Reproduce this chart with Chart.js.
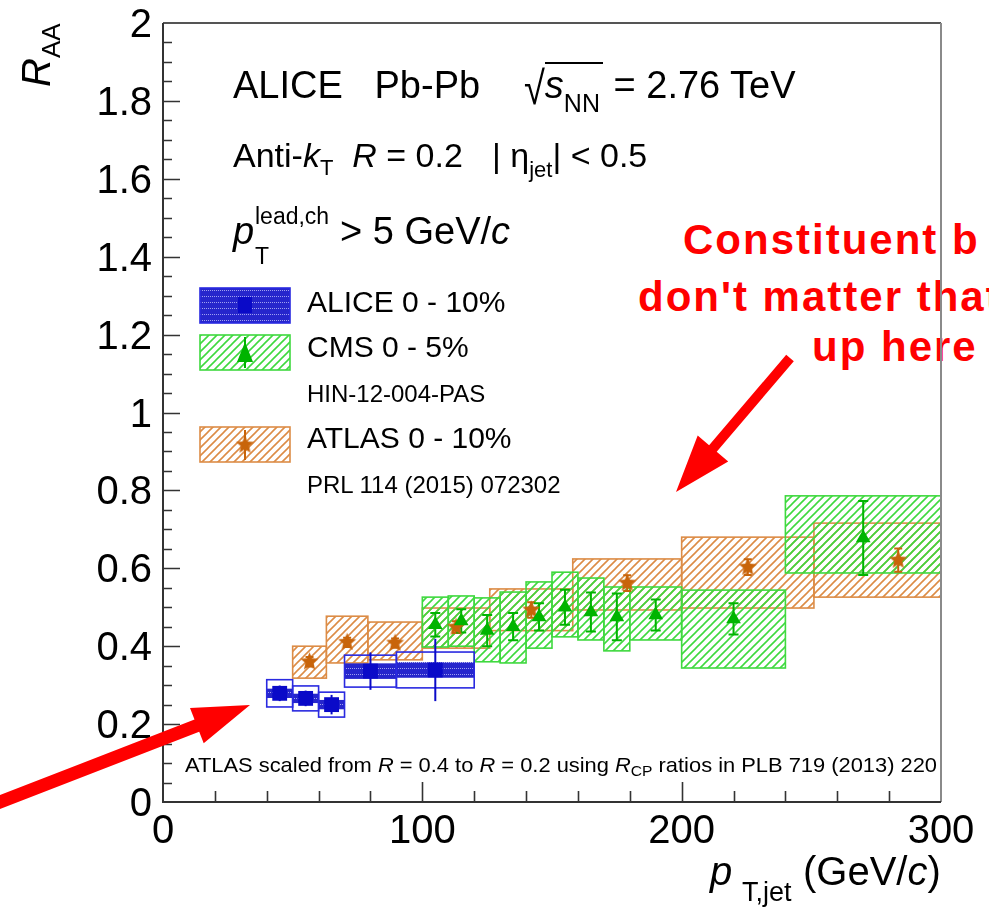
<!DOCTYPE html>
<html>
<head>
<meta charset="utf-8">
<script src="https://cdn.jsdelivr.net/npm/chart.js@4.4.1/dist/chart.umd.min.js"></script>
<style>
html,body{margin:0;padding:0;background:#fff;}
body{width:989px;height:909px;overflow:hidden;position:relative;font-family:"Liberation Sans",Arial,sans-serif;}
#c{position:absolute;left:0;top:0;}
.t{position:absolute;white-space:nowrap;line-height:1;color:#000;}
.s{position:relative;}
.red{color:#f00;font-weight:bold;letter-spacing:2px;}
#arrows{position:absolute;left:0;top:0;}
</style>
</head>
<body>
<!-- red comment text sits under the plot, the frame line shows through it -->
<div class="t red" data-x="683" data-b="255" data-s="42">Constituent b</div>
<div class="t red" data-x="638" data-b="312" data-s="42">don't matter that</div>
<div class="t red" data-x="812" data-b="362" data-s="42">up here</div>

<canvas id="c" width="989" height="909"></canvas>

<div class="t" data-x="233" data-b="98" data-s="38">ALICE&nbsp;&nbsp; Pb-Pb</div>
<div class="t" data-x="524" data-b="98" data-s="38"><span style="display:inline-block;transform:scaleY(1.22);transform-origin:50% 15%">√</span><span style="border-top:2px solid #000;padding-right:3px"><i>s</i><span class="s" style="font-size:25px;top:14px">NN</span></span> = 2.76 TeV</div>

<div class="t" data-x="233" data-b="167" data-s="34">Anti-<i>k</i><span class="s" style="font-size:22px;top:8px">T</span>&nbsp; <i>R</i> = 0.2</div>
<div class="t" data-x="492" data-b="167" data-s="34">| η<span class="s" style="font-size:22px;top:10px">jet</span>| &lt; 0.5</div>

<div class="t" data-x="233" data-b="244" data-s="38"><i>p</i></div>
<div class="t" data-x="255" data-b="224" data-s="23">lead,ch</div>
<div class="t" data-x="255" data-b="264" data-s="23">T</div>
<div class="t" data-x="340" data-b="244" data-s="38">&gt; 5 GeV/<i>c</i></div>

<div class="t" data-x="307" data-b="312" data-s="30">ALICE 0 - 10%</div>
<div class="t" data-x="307" data-b="357" data-s="30">CMS 0 - 5%</div>
<div class="t" data-x="307" data-b="402" data-s="24">HIN-12-004-PAS</div>
<div class="t" data-x="307" data-b="448" data-s="30">ATLAS 0 - 10%</div>
<div class="t" data-x="307" data-b="493" data-s="24">PRL 114 (2015) 072302</div>

<div class="t" data-x="185" data-b="772" data-s="21" data-w="752">ATLAS scaled from <i>R</i> = 0.4 to <i>R</i> = 0.2 using <i>R</i><span class="s" style="font-size:15px;top:4px">CP</span> ratios in PLB 719 (2013) 220</div>

<div class="t" data-x="710" data-b="885" data-s="40"><i>p</i></div>
<div class="t" data-x="742" data-b="902" data-s="27">T,jet</div>
<div class="t" data-x="803" data-b="885" data-s="40">(GeV/<i>c</i>)</div>

<div class="t" style="left:0;top:0;font-size:40px;transform-origin:0 0;transform:translate(16px,87px) rotate(-90deg)"><i>R</i><span class="s" style="font-size:26px;top:10px">AA</span></div>

<svg id="arrows" width="989" height="909"></svg>

<script>
// ALICE 0-10%, R=0.2
const aliceLo=[40,50,60,70,90];
const aliceHi=[50,60,70,90,120];
const alicePt=[45,55,65,80,105];
const aliceRaa=[0.279,0.266,0.25,0.336,0.339];
const aliceStat=[0.02,0.02,0.025,0.048,0.08];
const aliceCorr=[0.035,0.032,0.032,0.041,0.046];
const aliceShape=[0.012,0.012,0.012,0.02,0.02];

// CMS 0-5%
const cmsLo=[100,110,120,130,140,150,160,170,180,200,240];
const cmsHi=[110,120,130,140,150,160,170,180,200,240,300];
const cmsPt=[105,115,125,135,145,155,165,175,190,220,270];
const cmsRaa=[0.455,0.465,0.44,0.45,0.475,0.5,0.488,0.475,0.48,0.47,0.678];
const cmsStat=[0.03,0.03,0.04,0.035,0.035,0.045,0.05,0.06,0.04,0.04,0.095];
const cmsSysLow=[0.398,0.4,0.36,0.357,0.395,0.424,0.416,0.388,0.416,0.344,0.588];
const cmsSysHigh=[0.526,0.529,0.524,0.539,0.565,0.59,0.575,0.552,0.552,0.544,0.786];

// ATLAS 0-10%, scaled to R=0.2
const atlasLo=[50,63,79,100,126,158,200,251];
const atlasHi=[63,79,100,126,158,200,251,316];
const atlasPt=[56.5,71,89.5,113,142,179,225.5,283.5];
const atlasRaa=[0.36,0.41,0.408,0.449,0.493,0.562,0.603,0.621];
const atlasStat=[0.012,0.012,0.012,0.015,0.02,0.02,0.02,0.03];
const atlasSysLow=[0.318,0.357,0.365,0.395,0.44,0.493,0.498,0.526];
const atlasSysHigh=[0.40,0.477,0.462,0.498,0.547,0.624,0.68,0.716];

const xTicks=[0,100,200,300];
const yTicks=[0,0.2,0.4,0.6,0.8,1,1.2,1.4,1.6,1.8,2];

const blue='#0a0ac8', blueLine='#2a2ae0';
const green='#00b400', greenLine='#3fd93f';
const orange='#c8640a', orangeLine='#dc8c46';

// place the html texts on their baselines
document.querySelectorAll('.t[data-b]').forEach(el=>{
 const s=+el.dataset.s;
 el.style.fontSize=s+'px';
 el.style.left=el.dataset.x+'px';
 el.style.top=(+el.dataset.b - 0.8465*s)+'px';
 if(el.dataset.w){
  el.style.transformOrigin='0 0';
  el.style.transform='scaleX('+(+el.dataset.w/el.offsetWidth)+')';
 }
});

const canvas=document.getElementById('c');
const ctx0=canvas.getContext('2d');

function hatch(color,size,lw){
 const c=document.createElement('canvas'); c.width=c.height=size;
 const g=c.getContext('2d'); g.strokeStyle=color; g.lineWidth=lw;
 g.beginPath();
 g.moveTo(0,size); g.lineTo(size,0);
 g.moveTo(-size/2,size/2); g.lineTo(size/2,-size/2);
 g.moveTo(size/2,size*1.5); g.lineTo(size*1.5,size/2);
 g.stroke();
 return ctx0.createPattern(c,'repeat');
}
function dots(){
 const c=document.createElement('canvas'); c.width=4; c.height=6;
 const g=c.getContext('2d');
 g.fillStyle='#2626cc'; g.fillRect(0,0,4,6);
 g.fillStyle='#a0a0f0'; g.fillRect(0,2,1,1); g.fillRect(2,2,1,1);
 return ctx0.createPattern(c,'repeat');
}
function star(r,color){
 const c=document.createElement('canvas'); const s=Math.ceil(r*2+2); c.width=c.height=s;
 const g=c.getContext('2d'); g.fillStyle=color; g.beginPath();
 for(let i=0;i<10;i++){
  const a=-Math.PI/2+i*Math.PI/5, rr=i%2?r*0.45:r;
  g.lineTo(s/2+rr*Math.cos(a),s/2+rr*Math.sin(a));
 }
 g.closePath(); g.fill();
 return c;
}

const greenHatch=hatch(greenLine,8,1.6);
const orangeHatch=hatch(orangeLine,8,1.6);
const bluePat=dots();
const starImg=star(9.5,orange);

const boxes={
 id:'boxes',
 beforeDatasetsDraw(chart){
  const {ctx,chartArea:a,scales:{x,y}}=chart;
  ctx.save();
  ctx.beginPath(); ctx.rect(a.left,a.top,a.right-a.left,a.bottom-a.top); ctx.clip();
  const box=(lo,hi,ylo,yhi,fill,stroke,lw)=>{
   const x0=x.getPixelForValue(lo), x1=x.getPixelForValue(hi);
   const y0=y.getPixelForValue(yhi), y1=y.getPixelForValue(ylo);
   if(fill){ctx.fillStyle=fill; ctx.fillRect(x0,y0,x1-x0,y1-y0);}
   if(stroke){ctx.strokeStyle=stroke; ctx.lineWidth=lw; ctx.strokeRect(x0,y0,x1-x0,y1-y0);}
  };
  const err=(px,v,e,color,cap)=>{
   const xp=x.getPixelForValue(px), y0=y.getPixelForValue(v-e), y1=y.getPixelForValue(v+e);
   ctx.strokeStyle=color; ctx.lineWidth=2;
   ctx.beginPath(); ctx.moveTo(xp,y0); ctx.lineTo(xp,y1);
   if(cap){ctx.moveTo(xp-cap,y0); ctx.lineTo(xp+cap,y0); ctx.moveTo(xp-cap,y1); ctx.lineTo(xp+cap,y1);}
   ctx.stroke();
  };
  atlasLo.forEach((lo,i)=>box(lo,atlasHi[i],atlasSysLow[i],atlasSysHigh[i],orangeHatch,orangeLine,1.6));
  cmsLo.forEach((lo,i)=>box(lo,cmsHi[i],cmsSysLow[i],cmsSysHigh[i],greenHatch,greenLine,1.6));
  aliceLo.forEach((lo,i)=>{
   box(lo,aliceHi[i],aliceRaa[i]-aliceShape[i],aliceRaa[i]+aliceShape[i],bluePat,null,0);
   box(lo,aliceHi[i],aliceRaa[i]-aliceCorr[i],aliceRaa[i]+aliceCorr[i],null,blueLine,1.6);
  });
  atlasPt.forEach((p,i)=>err(p,atlasRaa[i],atlasStat[i],orange,4));
  cmsPt.forEach((p,i)=>err(p,cmsRaa[i],cmsStat[i],green,5));
  alicePt.forEach((p,i)=>err(p,aliceRaa[i],aliceStat[i],blue,0));
  ctx.restore();
 },
 afterDraw(chart){
  const {ctx,chartArea:a,scales:{x,y}}=chart;
  ctx.save();
  // frame
  ctx.lineWidth=2;
  ctx.strokeStyle='#555'; ctx.beginPath(); ctx.moveTo(a.left,a.top); ctx.lineTo(a.right,a.top); ctx.stroke();
  ctx.strokeStyle='#8a8a8a'; ctx.beginPath(); ctx.moveTo(a.right,a.top); ctx.lineTo(a.right,a.bottom); ctx.stroke();
  ctx.strokeStyle='#333'; ctx.beginPath(); ctx.moveTo(a.left,a.top); ctx.lineTo(a.left,a.bottom); ctx.lineTo(a.right,a.bottom); ctx.stroke();
  // ticks inside the frame
  ctx.lineWidth=1.6; ctx.strokeStyle='#333'; ctx.beginPath();
  for(let k=1;k<40;k++){
   const yp=Math.round(y.getPixelForValue(k*0.05))+0.5, len=k%4===0?17:9;
   ctx.moveTo(a.left,yp); ctx.lineTo(a.left+len,yp);
  }
  for(let k=1;k<15;k++){
   const xp=Math.round(x.getPixelForValue(k*20))+0.5, len=k%5===0?20:11;
   ctx.moveTo(xp,a.bottom); ctx.lineTo(xp,a.bottom-len);
  }
  ctx.stroke();
  // legend swatches
  const sw=[[288,bluePat,blueLine],[335,greenHatch,greenLine],[427,orangeHatch,orangeLine]];
  sw.forEach(([top,fill,line])=>{
   ctx.fillStyle=fill; ctx.fillRect(200,top,90,35);
   ctx.strokeStyle=line; ctx.lineWidth=1.6; ctx.strokeRect(200,top,90,35);
  });
  ctx.fillStyle=blue; ctx.fillRect(238,297,14,16);
  ctx.strokeStyle=green; ctx.lineWidth=2; ctx.beginPath(); ctx.moveTo(245,337); ctx.lineTo(245,368); ctx.stroke();
  ctx.fillStyle=green; ctx.beginPath(); ctx.moveTo(245,342); ctx.lineTo(253,362); ctx.lineTo(237,362); ctx.closePath(); ctx.fill();
  ctx.strokeStyle=orange; ctx.beginPath(); ctx.moveTo(245,430); ctx.lineTo(245,460); ctx.stroke();
  ctx.drawImage(starImg,245-starImg.width/2,445-starImg.height/2);
  ctx.restore();
 }
};

new Chart(canvas,{
 type:'scatter',
 data:{
  datasets:[
   {label:'ALICE 0 - 10%',data:alicePt.map((p,i)=>({x:p,y:aliceRaa[i]})),pointStyle:'rect',pointRadius:10.5,backgroundColor:blue,borderWidth:0},
   {label:'CMS 0 - 5%',data:cmsPt.map((p,i)=>({x:p,y:cmsRaa[i]})),pointStyle:'triangle',pointRadius:8.5,backgroundColor:green,borderWidth:0},
   {label:'ATLAS 0 - 10%',data:atlasPt.map((p,i)=>({x:p,y:atlasRaa[i]})),pointStyle:starImg,backgroundColor:orange,borderWidth:0}
  ]
 },
 options:{
  responsive:false,
  animation:false,
  layout:{padding:{top:23,right:48,left:0,bottom:0}},
  plugins:{legend:{display:false},tooltip:{enabled:false}},
  scales:{
   x:{type:'linear',min:0,max:300,
    afterFit:s=>{s.height=107; s.paddingLeft=0; s.paddingRight=0;},
    afterBuildTicks:s=>{s.ticks=xTicks.map(v=>({value:v}));},
    grid:{display:false,drawTicks:false},border:{display:false},
    ticks:{font:{family:'"Liberation Sans", Arial',size:40,lineHeight:1},color:'#000',padding:10,maxRotation:0,autoSkip:false}},
   y:{type:'linear',min:0,max:2,
    afterFit:s=>{s.width=163; s.paddingTop=0; s.paddingBottom=0;},
    afterBuildTicks:s=>{s.ticks=yTicks.map(v=>({value:v}));},
    grid:{display:false,drawTicks:false},border:{display:false},
    ticks:{font:{family:'"Liberation Sans", Arial',size:40,lineHeight:1},color:'#000',padding:11,labelOffset:3,autoSkip:false,
     callback:v=>String(+v.toFixed(2))}}
  }
 },
 plugins:[boxes]
});

// red arrows
function arrow(tx,ty,hx,hy,headLen,headW,shaftW){
 const dx=hx-tx, dy=hy-ty, L=Math.hypot(dx,dy), ux=dx/L, uy=dy/L, nx=-uy, ny=ux;
 const bx=hx-ux*headLen, by=hy-uy*headLen;
 const p=[[tx+nx*shaftW/2,ty+ny*shaftW/2],[bx+nx*shaftW/2,by+ny*shaftW/2],[bx+nx*headW/2,by+ny*headW/2],[hx,hy],
  [bx-nx*headW/2,by-ny*headW/2],[bx-nx*shaftW/2,by-ny*shaftW/2],[tx-nx*shaftW/2,ty-ny*shaftW/2]];
 return '<polygon fill="#ff0000" points="'+p.map(q=>q[0].toFixed(1)+','+q[1].toFixed(1)).join(' ')+'"/>';
}
document.getElementById('arrows').innerHTML=arrow(790,358,676,492,57,40,10)+arrow(-5,804,250,705,57,38,13);
</script>
</body>
</html>
